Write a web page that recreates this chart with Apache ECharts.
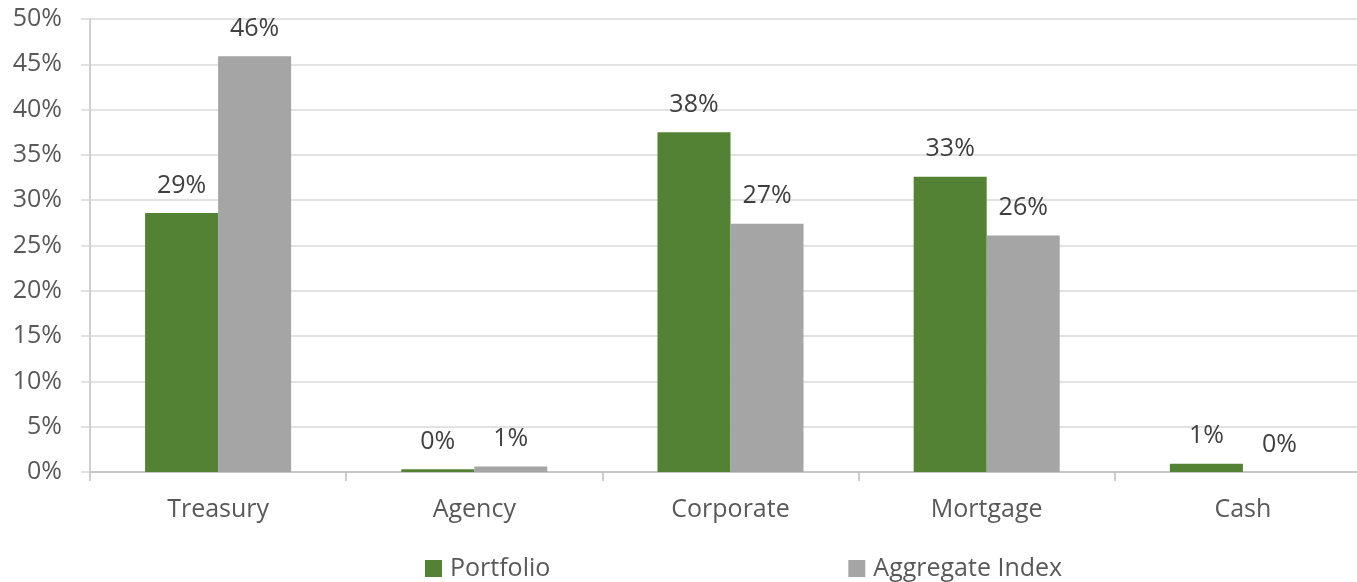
<!DOCTYPE html>
<html>
<head>
<meta charset="utf-8">
<script src="https://cdn.jsdelivr.net/npm/echarts@6/dist/echarts.min.js"></script>
<style>
  html, body { margin: 0; padding: 0; background: #ffffff; overflow: hidden; }
  /* the plot runs slightly past the right edge of the window */
  #chart { width: 1371px; height: 582px; }
</style>
</head>
<body>
<div id="chart"></div>
<script>
// Sector allocation, percent of total
const categories = ['Treasury', 'Agency', 'Corporate', 'Mortgage', 'Cash'];
const portfolio = [28.6, 0.3, 37.5, 32.6, 0.9];
const aggregateIndex = [45.9, 0.6, 27.4, 26.1, 0.0];
const seriesNames = ['Portfolio', 'Aggregate Index'];

const FONT = '"Open Sans", sans-serif';
const TEXT = '#595959';
const FS = 25;

const chart = echarts.init(document.getElementById('chart'), null, { renderer: 'canvas' });

const labelOpt = {
  show: true,
  position: 'top',
  distance: 15,
  color: '#404040',
  fontFamily: FONT,
  fontSize: FS,
  formatter: p => Math.round(p.value) + '%'
};

chart.setOption({
  animation: false,
  textStyle: { fontFamily: FONT },
  grid: { left: 90, right: 0, top: 19, bottom: 110, containLabel: false },
  legend: {
    data: seriesNames,
    left: 420,
    top: 551,
    itemWidth: 17,
    itemHeight: 17,
    itemGap: 298,
    icon: 'rect',
    textStyle: { color: TEXT, fontFamily: FONT, fontSize: FS, padding: [0, 0, 0, 3] }
  },
  xAxis: {
    type: 'category',
    data: categories,
    axisLine: { lineStyle: { color: '#BFBFBF', width: 1.5 } },
    axisTick: { show: true, length: 9, alignWithLabel: false, lineStyle: { color: '#BFBFBF', width: 1.5 } },
    axisLabel: { color: TEXT, fontFamily: FONT, fontSize: FS, margin: 25 }
  },
  yAxis: {
    type: 'value',
    min: 0,
    max: 50,
    interval: 5,
    axisLine: { show: true, lineStyle: { color: '#BFBFBF', width: 1.5 } },
    axisTick: { show: true, length: 9, lineStyle: { color: '#D9D9D9', width: 1.5 } },
    splitLine: { show: true, lineStyle: { color: '#D9D9D9', width: 1.5 } },
    axisLabel: { color: TEXT, fontFamily: FONT, fontSize: FS, margin: 28, formatter: '{value}%' }
  },
  series: [
    {
      name: seriesNames[0],
      type: 'bar',
      data: portfolio,
      barGap: '0%',
      barCategoryGap: '43%',
      itemStyle: { color: '#548235' },
      label: labelOpt
    },
    {
      name: seriesNames[1],
      type: 'bar',
      data: aggregateIndex,
      itemStyle: { color: '#A5A5A5' },
      label: labelOpt
    }
  ]
});
</script>
</body>
</html>
